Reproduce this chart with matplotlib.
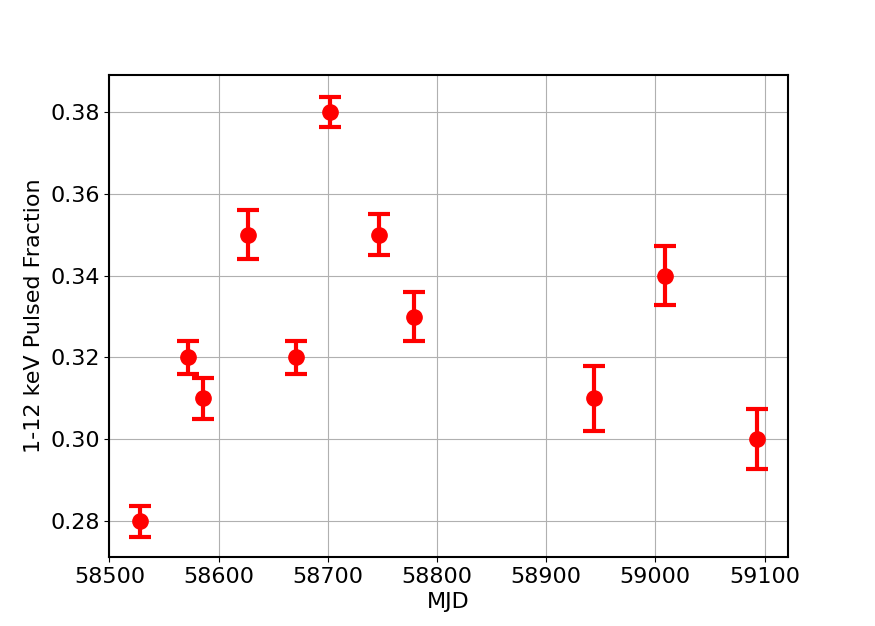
import numpy as np
import matplotlib
matplotlib.use('Agg')
import matplotlib.pyplot as plt

mjd=[58528,58572,58586,58627,58671,58702,58747,58779,58944,59009,59093]
pf=[0.28,0.32,0.31,0.35,0.32,0.38,0.35,0.33,0.31,0.34,0.30]
pf_err=[0.0038,0.004,0.005,0.006,0.004,0.0037,0.005,0.006,0.008,0.0073,0.0073]

plt.rcParams['font.size']=16
fig=plt.figure(figsize=(8.75,6.26),dpi=100)
ax=fig.add_subplot(111)
ax.errorbar(mjd,pf,yerr=pf_err,fmt='o',color='red',ms=11,elinewidth=3,capsize=8,capthick=3)
ax.set_xlim(58500,59121)
ax.set_ylim(0.2712,0.389)
ax.set_xticks([58500,58600,58700,58800,58900,59000,59100])
ax.set_yticks([0.28,0.30,0.32,0.34,0.36,0.38])
ax.grid(True)
ax.set_axisbelow(True)
for s in ax.spines.values(): s.set_linewidth(1.5)
ax.set_xlabel('MJD')
ax.set_ylabel('1-12 keV Pulsed Fraction')
fig.savefig('out.png',dpi=100)
